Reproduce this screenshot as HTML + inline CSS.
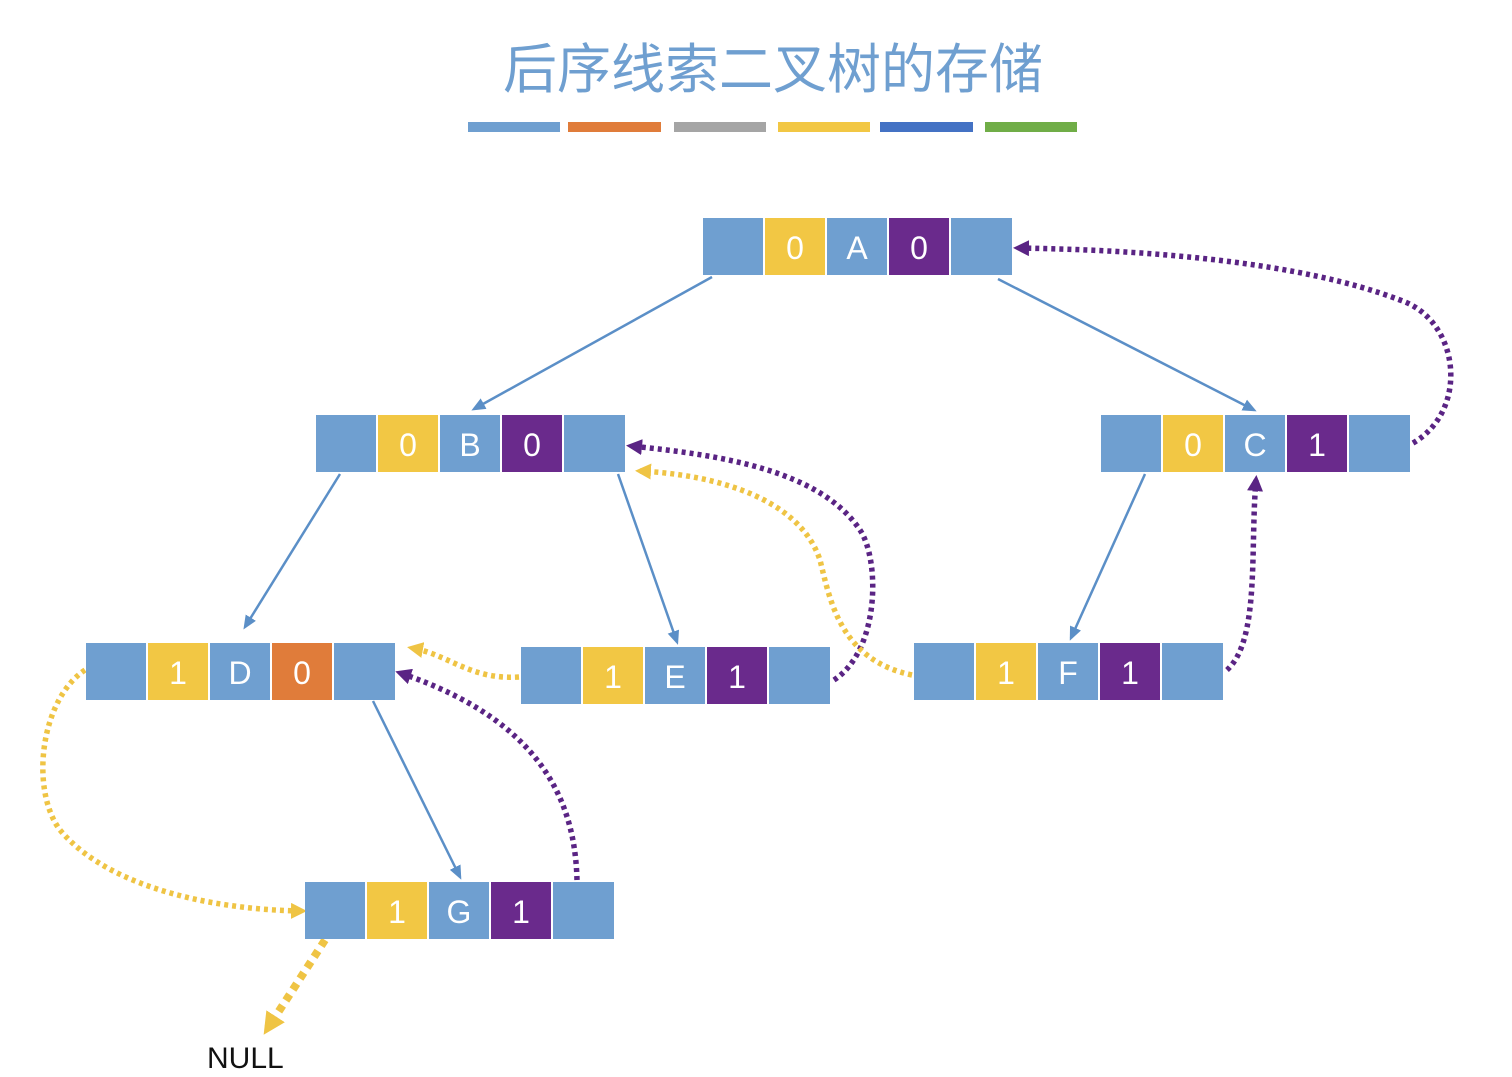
<!DOCTYPE html>
<html><head><meta charset="utf-8"><style>
html,body{margin:0;padding:0;background:#fff;width:1512px;height:1077px;overflow:hidden}
svg{display:block}
text{font-family:"Liberation Sans","Noto Sans CJK SC",sans-serif}
</style></head><body>
<svg width="1512" height="1077" viewBox="0 0 1512 1077" xmlns="http://www.w3.org/2000/svg">
<defs>
<marker id="ab" markerWidth="14" markerHeight="14" refX="11" refY="7" orient="auto" markerUnits="userSpaceOnUse"><path d="M0,1 L14,7 L0,13 z" fill="#5b8fc7"/></marker>
<marker id="ap" markerWidth="16" markerHeight="16" refX="11" refY="8" orient="auto" markerUnits="userSpaceOnUse"><path d="M0,0 L16,8 L0,16 z" fill="#5a2484"/></marker>
<marker id="ay" markerWidth="16" markerHeight="16" refX="11" refY="8" orient="auto" markerUnits="userSpaceOnUse"><path d="M0,0 L16,8 L0,16 z" fill="#efc444"/></marker>
<marker id="ay2" markerWidth="22" markerHeight="22" refX="14" refY="11" orient="auto" markerUnits="userSpaceOnUse"><path d="M0,0 L22,11 L0,22 z" fill="#efc444"/></marker>
</defs>
<text x="773" y="88" font-size="54" fill="#6f9fd0" text-anchor="middle">后序线索二叉树的存储</text>
<g>
<rect x="468" y="122" width="92" height="10" fill="#6f9fd0"/>
<rect x="568" y="122" width="93" height="10" fill="#e07c3a"/>
<rect x="674" y="122" width="92" height="10" fill="#a5a5a5"/>
<rect x="778" y="122" width="92" height="10" fill="#f2c744"/>
<rect x="880" y="122" width="93" height="10" fill="#4472c4"/>
<rect x="985" y="122" width="92" height="10" fill="#70ad47"/>
</g>
<g stroke="#5b8fc7" stroke-width="2.5" fill="none" marker-end="url(#ab)">
<line x1="712" y1="277" x2="474" y2="409"/>
<line x1="998" y1="279" x2="1254" y2="410"/>
<line x1="340" y1="474" x2="245" y2="627"/>
<line x1="618" y1="474" x2="677" y2="642"/>
<line x1="1145" y1="474" x2="1071" y2="638"/>
<line x1="373" y1="701" x2="460" y2="877"/>
</g>
<g stroke="#5a2484" stroke-width="5.5" stroke-dasharray="4 4" fill="none" marker-end="url(#ap)">
<path d="M1413,443 C1470,410 1460,320 1400,300 C1300,262 1150,250 1018,248"/>
<path d="M834,680 C880,650 880,560 860,530 C820,470 720,455 631,446"/>
<path d="M1227,670 C1260,640 1250,550 1256,480"/>
<path d="M577,880 C575,800 540,720 400,673"/>
</g>
<g stroke="#efc444" stroke-width="5.5" stroke-dasharray="4 4" fill="none" marker-end="url(#ay)">
<path d="M912,675 C840,660 830,600 820,560 C800,500 720,475 640,471"/>
<path d="M519,677 C470,680 450,655 412,648"/>
<path d="M85,670 C40,700 30,790 60,830 C110,890 220,910 302,911"/>
</g>
<path d="M325,940 L268,1028" stroke="#efc444" stroke-width="8" stroke-dasharray="7 6" fill="none" marker-end="url(#ay2)"/>
<text x="207" y="1068" font-size="30" fill="#111">NULL</text>
<g font-size="32" fill="#fff" text-anchor="middle">
<g transform="translate(703,218)">
<rect x="0" y="0" width="60" height="57" fill="#6f9fd0"/><rect x="62" y="0" width="60" height="57" fill="#f2c744"/><rect x="124" y="0" width="60" height="57" fill="#6f9fd0"/><rect x="186" y="0" width="60" height="57" fill="#6a2a8c"/><rect x="248" y="0" width="61" height="57" fill="#6f9fd0"/>
<text x="92" y="41">0</text><text x="154" y="41">A</text><text x="216" y="41">0</text></g>
<g transform="translate(316,415)">
<rect x="0" y="0" width="60" height="57" fill="#6f9fd0"/><rect x="62" y="0" width="60" height="57" fill="#f2c744"/><rect x="124" y="0" width="60" height="57" fill="#6f9fd0"/><rect x="186" y="0" width="60" height="57" fill="#6a2a8c"/><rect x="248" y="0" width="61" height="57" fill="#6f9fd0"/>
<text x="92" y="41">0</text><text x="154" y="41">B</text><text x="216" y="41">0</text></g>
<g transform="translate(1101,415)">
<rect x="0" y="0" width="60" height="57" fill="#6f9fd0"/><rect x="62" y="0" width="60" height="57" fill="#f2c744"/><rect x="124" y="0" width="60" height="57" fill="#6f9fd0"/><rect x="186" y="0" width="60" height="57" fill="#6a2a8c"/><rect x="248" y="0" width="61" height="57" fill="#6f9fd0"/>
<text x="92" y="41">0</text><text x="154" y="41">C</text><text x="216" y="41">1</text></g>
<g transform="translate(86,643)">
<rect x="0" y="0" width="60" height="57" fill="#6f9fd0"/><rect x="62" y="0" width="60" height="57" fill="#f2c744"/><rect x="124" y="0" width="60" height="57" fill="#6f9fd0"/><rect x="186" y="0" width="60" height="57" fill="#e07c3a"/><rect x="248" y="0" width="61" height="57" fill="#6f9fd0"/>
<text x="92" y="41">1</text><text x="154" y="41">D</text><text x="216" y="41">0</text></g>
<g transform="translate(521,647)">
<rect x="0" y="0" width="60" height="57" fill="#6f9fd0"/><rect x="62" y="0" width="60" height="57" fill="#f2c744"/><rect x="124" y="0" width="60" height="57" fill="#6f9fd0"/><rect x="186" y="0" width="60" height="57" fill="#6a2a8c"/><rect x="248" y="0" width="61" height="57" fill="#6f9fd0"/>
<text x="92" y="41">1</text><text x="154" y="41">E</text><text x="216" y="41">1</text></g>
<g transform="translate(914,643)">
<rect x="0" y="0" width="60" height="57" fill="#6f9fd0"/><rect x="62" y="0" width="60" height="57" fill="#f2c744"/><rect x="124" y="0" width="60" height="57" fill="#6f9fd0"/><rect x="186" y="0" width="60" height="57" fill="#6a2a8c"/><rect x="248" y="0" width="61" height="57" fill="#6f9fd0"/>
<text x="92" y="41">1</text><text x="154" y="41">F</text><text x="216" y="41">1</text></g>
<g transform="translate(305,882)">
<rect x="0" y="0" width="60" height="57" fill="#6f9fd0"/><rect x="62" y="0" width="60" height="57" fill="#f2c744"/><rect x="124" y="0" width="60" height="57" fill="#6f9fd0"/><rect x="186" y="0" width="60" height="57" fill="#6a2a8c"/><rect x="248" y="0" width="61" height="57" fill="#6f9fd0"/>
<text x="92" y="41">1</text><text x="154" y="41">G</text><text x="216" y="41">1</text></g>
</g>
</svg>
</body></html>
